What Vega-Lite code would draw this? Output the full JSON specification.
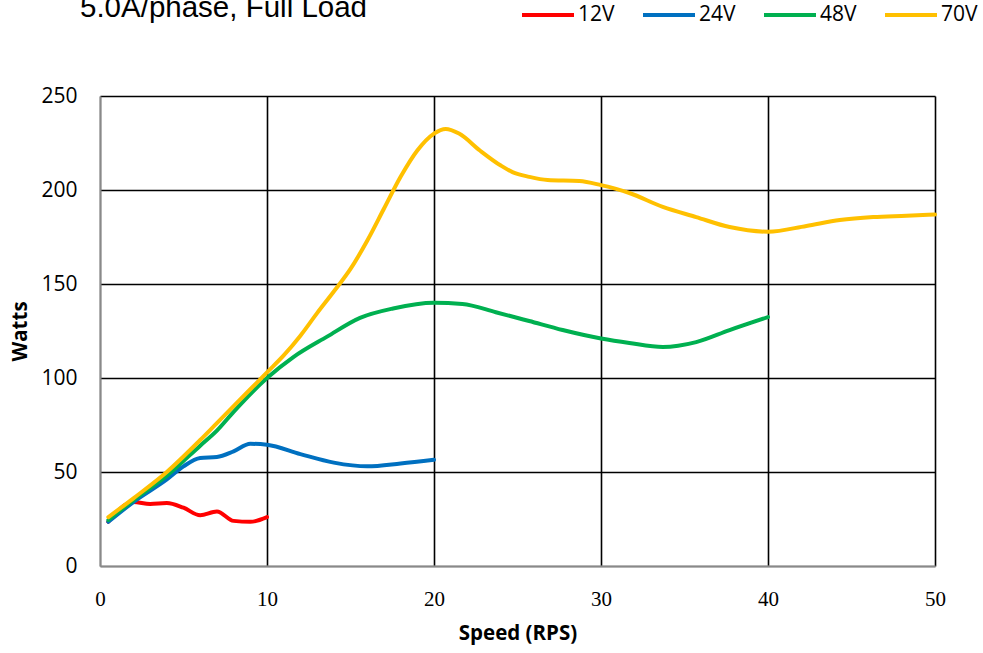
{
  "$schema": "https://vega.github.io/schema/vega-lite/v6.json",
  "width": 835,
  "height": 470,
  "autosize": {"type": "none"},
  "padding": {"left": 100, "top": 96, "right": 48, "bottom": 87},
  "background": "white",
  "title": {
    "text": "5.0A/phase, Full Load",
    "anchor": "start",
    "frame": "group",
    "font": "Liberation Sans",
    "fontSize": 29.5,
    "fontWeight": "normal",
    "color": "black",
    "baseline": "alphabetic",
    "offset": 0,
    "dy": 59,
    "dx": -20
  },
  "config": {
    "view": {"stroke": null},
    "axis": {"ticks": false}
  },
  "data": {
    "values": [
      {"series": "12V", "speed": 0.5, "watts": 23.5},
      {"series": "12V", "speed": 2, "watts": 34},
      {"series": "12V", "speed": 3, "watts": 33},
      {"series": "12V", "speed": 4, "watts": 33.5},
      {"series": "12V", "speed": 5, "watts": 31},
      {"series": "12V", "speed": 6, "watts": 27},
      {"series": "12V", "speed": 7, "watts": 29},
      {"series": "12V", "speed": 8, "watts": 24},
      {"series": "12V", "speed": 9, "watts": 23.5},
      {"series": "12V", "speed": 10, "watts": 26},
      {"series": "24V", "speed": 0.5, "watts": 23.5},
      {"series": "24V", "speed": 2, "watts": 34},
      {"series": "24V", "speed": 4, "watts": 46},
      {"series": "24V", "speed": 5, "watts": 53},
      {"series": "24V", "speed": 6, "watts": 57.5},
      {"series": "24V", "speed": 7, "watts": 58},
      {"series": "24V", "speed": 8, "watts": 61},
      {"series": "24V", "speed": 9, "watts": 65},
      {"series": "24V", "speed": 10, "watts": 64.5},
      {"series": "24V", "speed": 12, "watts": 59.5},
      {"series": "24V", "speed": 14, "watts": 55},
      {"series": "24V", "speed": 16, "watts": 53},
      {"series": "24V", "speed": 18, "watts": 54.5},
      {"series": "24V", "speed": 20, "watts": 56.5},
      {"series": "48V", "speed": 0.5, "watts": 24.5},
      {"series": "48V", "speed": 2, "watts": 35},
      {"series": "48V", "speed": 4, "watts": 48},
      {"series": "48V", "speed": 6, "watts": 64},
      {"series": "48V", "speed": 7, "watts": 72},
      {"series": "48V", "speed": 8, "watts": 82},
      {"series": "48V", "speed": 10, "watts": 100},
      {"series": "48V", "speed": 11.56, "watts": 111},
      {"series": "48V", "speed": 13.6, "watts": 122},
      {"series": "48V", "speed": 15.57, "watts": 132},
      {"series": "48V", "speed": 17.55, "watts": 137},
      {"series": "48V", "speed": 20, "watts": 140},
      {"series": "48V", "speed": 21.7, "watts": 139.4},
      {"series": "48V", "speed": 23.7, "watts": 135},
      {"series": "48V", "speed": 25.7, "watts": 130.3},
      {"series": "48V", "speed": 27.7, "watts": 125.5},
      {"series": "48V", "speed": 30, "watts": 121},
      {"series": "48V", "speed": 31.7, "watts": 118.6},
      {"series": "48V", "speed": 33.7, "watts": 116.5},
      {"series": "48V", "speed": 35.7, "watts": 119.1},
      {"series": "48V", "speed": 37.7, "watts": 125.5},
      {"series": "48V", "speed": 40, "watts": 132.4},
      {"series": "70V", "speed": 0.5, "watts": 26},
      {"series": "70V", "speed": 2, "watts": 36},
      {"series": "70V", "speed": 4, "watts": 50},
      {"series": "70V", "speed": 6, "watts": 67},
      {"series": "70V", "speed": 7, "watts": 76},
      {"series": "70V", "speed": 8, "watts": 85},
      {"series": "70V", "speed": 10, "watts": 103},
      {"series": "70V", "speed": 11, "watts": 112},
      {"series": "70V", "speed": 12, "watts": 122.5},
      {"series": "70V", "speed": 13, "watts": 134.5},
      {"series": "70V", "speed": 14, "watts": 146},
      {"series": "70V", "speed": 15, "watts": 158},
      {"series": "70V", "speed": 16, "watts": 173},
      {"series": "70V", "speed": 17, "watts": 190},
      {"series": "70V", "speed": 18, "watts": 207},
      {"series": "70V", "speed": 19, "watts": 221},
      {"series": "70V", "speed": 20, "watts": 230},
      {"series": "70V", "speed": 20.7, "watts": 232.5},
      {"series": "70V", "speed": 21.5, "watts": 230},
      {"series": "70V", "speed": 22.75, "watts": 221},
      {"series": "70V", "speed": 24, "watts": 213},
      {"series": "70V", "speed": 24.7, "watts": 209.5},
      {"series": "70V", "speed": 25.7, "watts": 207},
      {"series": "70V", "speed": 26.8, "watts": 205.3},
      {"series": "70V", "speed": 28.7, "watts": 204.8},
      {"series": "70V", "speed": 30, "watts": 202.6},
      {"series": "70V", "speed": 31.7, "watts": 198.4},
      {"series": "70V", "speed": 33.7, "watts": 191},
      {"series": "70V", "speed": 35.7, "watts": 185.6},
      {"series": "70V", "speed": 37.7, "watts": 180.3},
      {"series": "70V", "speed": 40, "watts": 177.8},
      {"series": "70V", "speed": 42.3, "watts": 180.9},
      {"series": "70V", "speed": 44.3, "watts": 184},
      {"series": "70V", "speed": 46.3, "watts": 185.6},
      {"series": "70V", "speed": 48.3, "watts": 186.3},
      {"series": "70V", "speed": 50, "watts": 187}
    ]
  },
  "mark": {"type": "line", "interpolate": "monotone", "strokeWidth": 4, "strokeCap": "round"},
  "encoding": {
    "x": {
      "field": "speed",
      "type": "quantitative",
      "scale": {"domain": [0, 50], "nice": false},
      "axis": {
        "title": "Speed (RPS)",
        "values": [0, 10, 20, 30, 40, 50],
        "grid": true,
        "gridColor": {"condition": {"test": "datum.value === 0", "value": "#898989"}, "value": "black"},
        "gridWidth": 1.6,
        "gridOpacity": 1,
        "domainColor": "#898989",
        "domainWidth": 2,
        "labelFlush": false,
        "labelFont": "Liberation Serif",
        "labelFontSize": 21,
        "labelColor": "black",
        "labelPadding": 22,
        "titleFont": "Open Sans",
        "titleFontSize": 20.5,
        "titleFontWeight": "bold",
        "titleColor": "black",
        "titlePadding": 14
      }
    },
    "y": {
      "field": "watts",
      "type": "quantitative",
      "scale": {"domain": [0, 250], "nice": false},
      "axis": {
        "title": "Watts",
        "values": [0, 50, 100, 150, 200, 250],
        "grid": true,
        "gridColor": {"condition": {"test": "datum.value === 0", "value": "#898989"}, "value": "black"},
        "gridWidth": 1.6,
        "gridOpacity": 1,
        "domainColor": "#898989",
        "domainWidth": 2,
        "labelFlush": false,
        "labelFont": "Open Sans",
        "labelFontSize": 21,
        "labelColor": "black",
        "labelPadding": 23,
        "titleFont": "Open Sans",
        "titleFontSize": 20.5,
        "titleFontWeight": "bold",
        "titleColor": "black",
        "titlePadding": 10
      }
    },
    "color": {
      "field": "series",
      "type": "nominal",
      "scale": {"domain": ["12V", "24V", "48V", "70V"], "range": ["#FF0000", "#0070C0", "#00B050", "#FFC000"]},
      "legend": {
        "title": null,
        "orient": "none",
        "legendX": 420,
        "legendY": -109,
        "direction": "horizontal",
        "symbolType": "stroke",
        "symbolSize": 2704,
        "symbolStrokeWidth": 4,
        "labelFont": "Open Sans",
        "labelFontSize": 21,
        "labelColor": "black",
        "labelOffset": 2,
        "columnPadding": 20
      }
    }
  }
}
